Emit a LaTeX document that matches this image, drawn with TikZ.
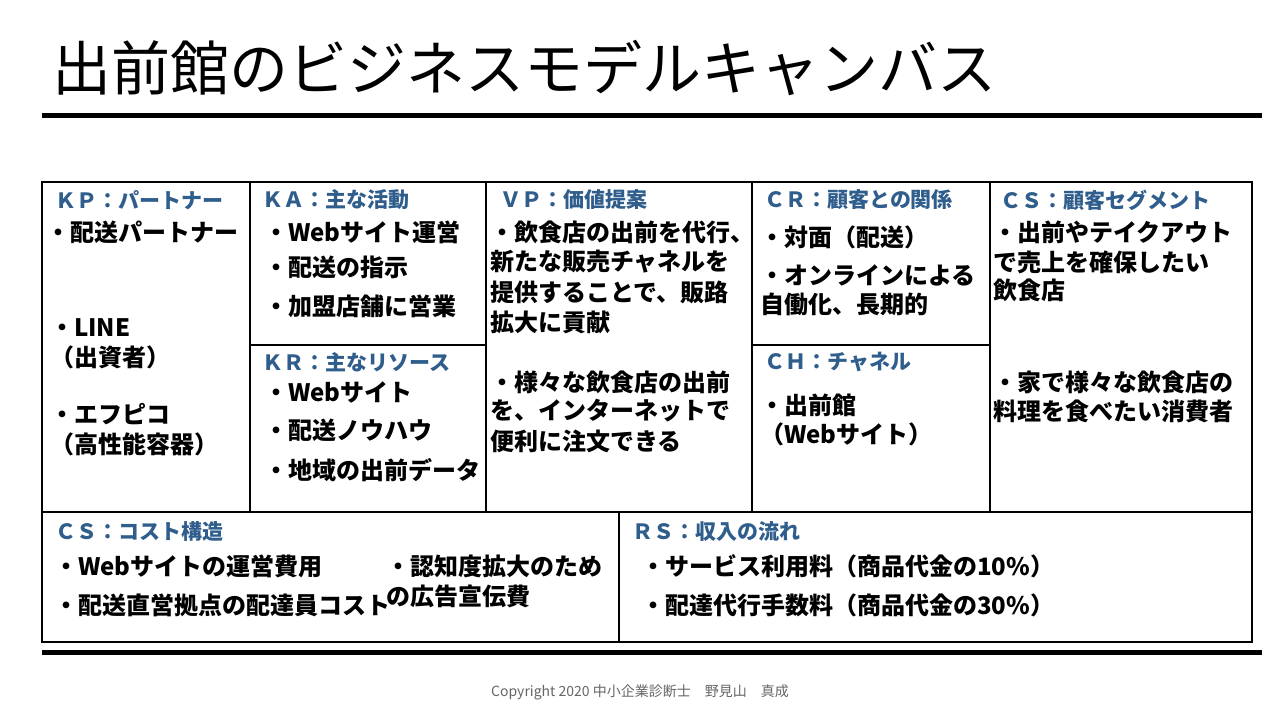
\documentclass[tikz,border=0pt]{standalone}
\usepackage{fontspec}
\setmainfont{Noto Sans CJK JP}
\definecolor{hd}{HTML}{2F5D8C}
\begin{document}
\begin{tikzpicture}[x=1pt,y=-1pt,
  hdr/.style={anchor=west,inner sep=0,text=hd,font=\bfseries\fontsize{21}{21}\selectfont},
  bd/.style={anchor=west,inner sep=0,font=\bfseries\fontsize{24}{24}\selectfont},
  ln/.style={line width=1.2pt}]
\useasboundingbox (0,0) rectangle (1280,723);
\fill[white] (0,0) rectangle (1280,723);
\node[anchor=west,inner sep=0,font=\fontsize{59}{59}\selectfont] (title) at (52,68) {出前館のビジネスモデルキャンバス};
\coordinate (t1) at (42,115); \coordinate (t2) at (1262,115);
\draw[line width=5pt] (t1) -- (t2);
\coordinate (b1) at (42,652); \coordinate (b2) at (1262,652);
\draw[line width=5pt] (b1) -- (b2);
\draw[ln] (42,182) rectangle (1252,642);
\draw[ln] (42,512) -- (1252,512);
\draw[ln] (250,182) -- (250,512);
\draw[ln] (486,182) -- (486,512);
\draw[ln] (752,182) -- (752,512);
\draw[ln] (990,182) -- (990,512);
\draw[ln] (250,345) -- (486,345);
\draw[ln] (752,345) -- (990,345);
\draw[ln] (619,512) -- (619,642);
% KP
\node[hdr] (kph) at (55,200) {ＫＰ：パートナー};
\node[bd] (kp1) at (46,232) {・配送パートナー};
\node[bd] (kp2) at (50,328) {・LINE};
\node[bd] (kp3) at (50,357) {（出資者）};
\node[bd] (kp4) at (50,414) {・エフピコ};
\node[bd] (kp5) at (50,444) {（高性能容器）};
% KA
\node[hdr] (kah) at (262,200) {ＫＡ：主な活動};
\node[bd] (ka1) at (264,232) {・Webサイト運営};
\node[bd] (ka2) at (264,267) {・配送の指示};
\node[bd] (ka3) at (264,306) {・加盟店舗に営業};
% KR
\node[hdr] (krh) at (262,362) {ＫＲ：主なリソース};
\node[bd] (kr1) at (264,392) {・Webサイト};
\node[bd] (kr2) at (264,430) {・配送ノウハウ};
\node[bd] (kr3) at (264,470) {・地域の出前データ};
% VP
\node[hdr] (vph) at (500,200) {ＶＰ：価値提案};
\node[bd] (vp1) at (490,232) {・飲食店の出前を代行、};
\node[bd] (vp2) at (490,262) {新たな販売チャネルを};
\node[bd] (vp3) at (490,292) {提供することで、販路};
\node[bd] (vp4) at (490,322) {拡大に貢献};
\node[bd] (vp5) at (490,382) {・様々な飲食店の出前};
\node[bd] (vp6) at (490,411) {を、インターネットで};
\node[bd] (vp7) at (490,441) {便利に注文できる};
% CR
\node[hdr] (crh) at (764,200) {ＣＲ：顧客との関係};
\node[bd] (cr1) at (760,237) {・対面（配送）};
\node[bd] (cr2) at (760,275) {・オンラインによる};
\node[bd] (cr3) at (760,304) {自働化、長期的};
% CH
\node[hdr] (chh) at (764,362) {ＣＨ：チャネル};
\node[bd] (ch1) at (760,405) {・出前館};
\node[bd] (ch2) at (760,434) {（Webサイト）};
% CS
\node[hdr] (csh) at (1000,200) {ＣＳ：顧客セグメント};
\node[bd] (cs1) at (993,232) {・出前やテイクアウト};
\node[bd] (cs2) at (993,262) {で売上を確保したい};
\node[bd] (cs3) at (993,290) {飲食店};
\node[bd] (cs4) at (993,382) {・家で様々な飲食店の};
\node[bd] (cs5) at (993,411) {料理を食べたい消費者};
% Cost
\node[hdr] (coh) at (55,532) {ＣＳ：コスト構造};
\node[bd] (co1) at (54,566) {・Webサイトの運営費用};
\node[bd] (co2) at (54,605) {・配送直営拠点の配達員コスト};
\node[bd] (co3) at (386,566) {・認知度拡大のため};
\node[bd] (co4) at (386,596) {の広告宣伝費};
% RS
\node[hdr] (rsh) at (632,532) {ＲＳ：収入の流れ};
\node[bd] (rs1) at (641,566) {・サービス利用料（商品代金の10\%）};
\node[bd] (rs2) at (641,605) {・配達代行手数料（商品代金の30\%）};
\node[inner sep=0,text=black!60,font=\fontsize{14}{14}\selectfont] (cp) at (640,692) {Copyright 2020 中小企業診断士　野見山　真成};
\end{tikzpicture}
\end{document}
